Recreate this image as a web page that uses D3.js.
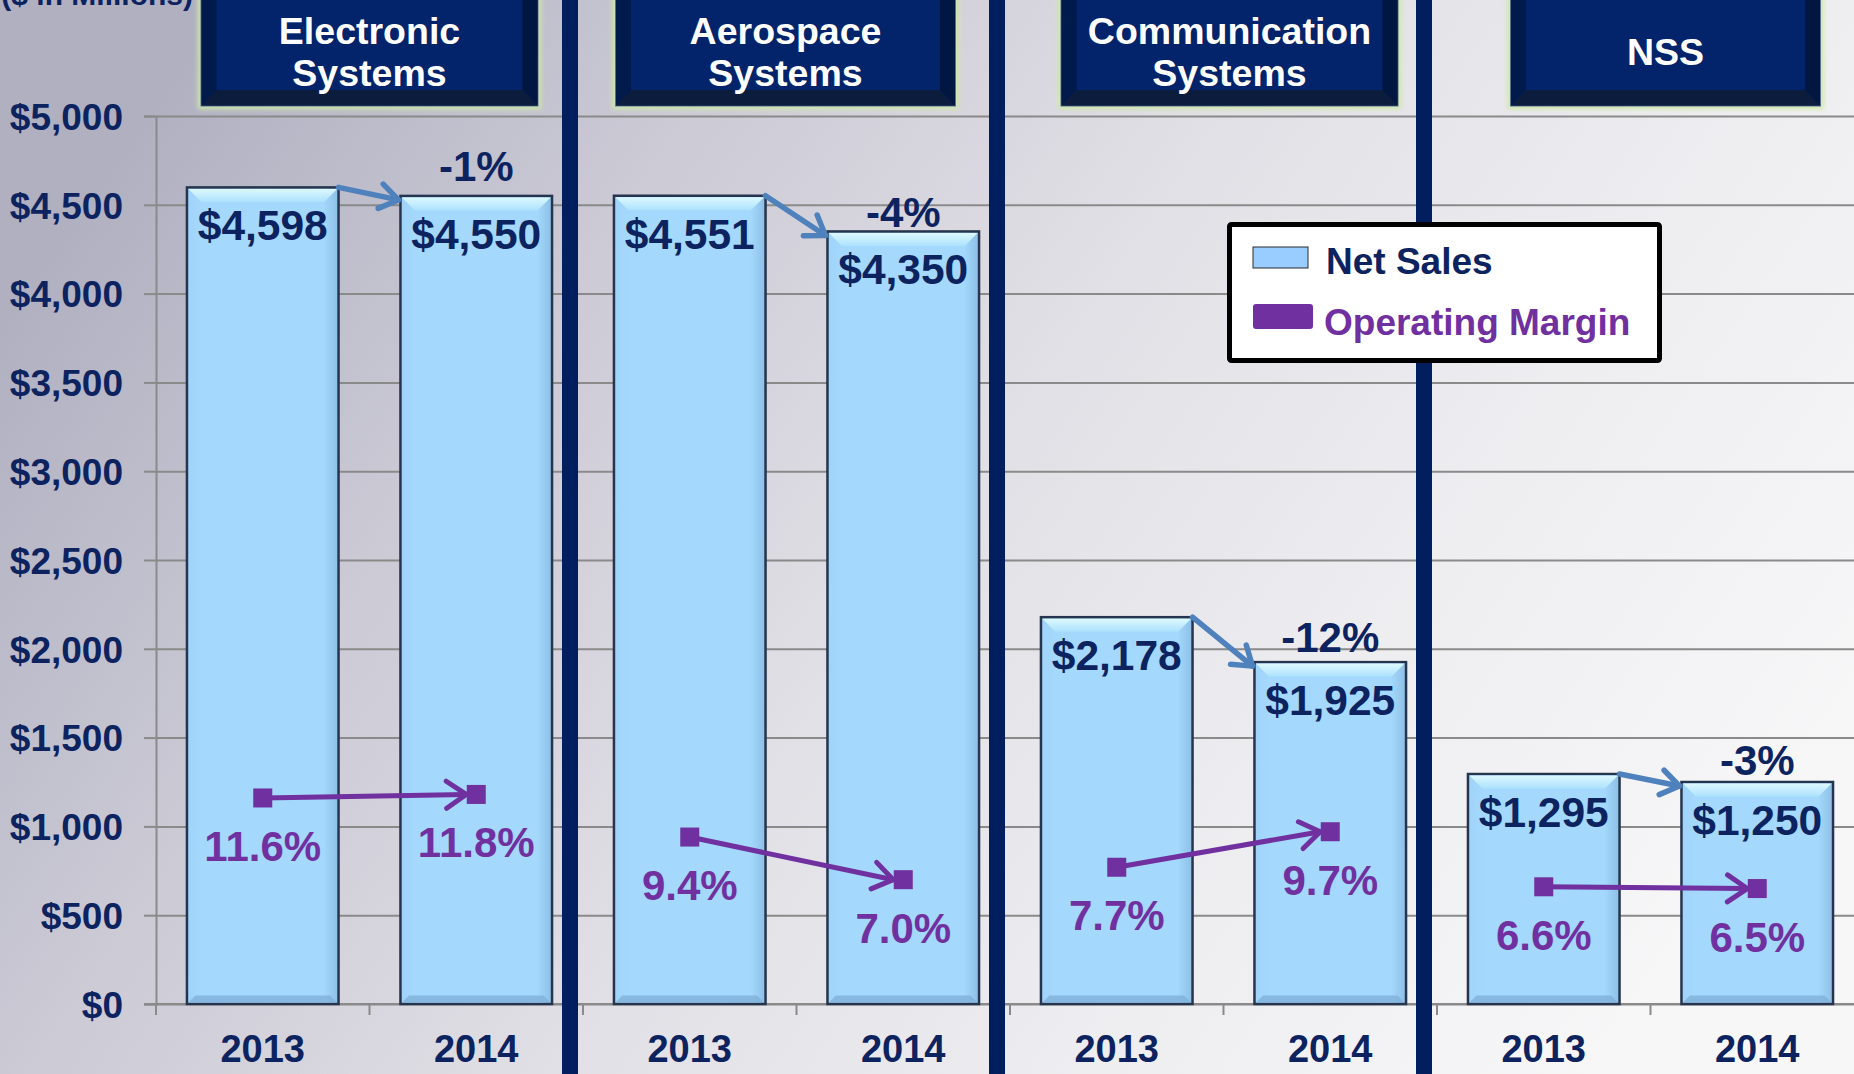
<!DOCTYPE html>
<html>
<head>
<meta charset="utf-8">
<script src="https://cdn.jsdelivr.net/npm/d3@7/dist/d3.min.js"></script>
<style>
  html, body { margin: 0; padding: 0; overflow: hidden; background: #fff; }
  svg { display: block; }
  text { font-family: "Liberation Sans", Arial, Helvetica, sans-serif; font-weight: bold; }
</style>
</head>
<body>
<svg id="chart" width="1854" height="1074"></svg>
<script>
// ---------------- DATA ----------------
const segments = ["Electronic Systems", "Aerospace Systems", "Communication Systems", "NSS"];
const segmentLines = [["Electronic", "Systems"], ["Aerospace", "Systems"], ["Communication", "Systems"], ["NSS"]];
const years = ["2013", "2014"];
const netSales2013 = [4598, 4551, 2178, 1295];
const netSales2014 = [4550, 4350, 1925, 1250];
const margin2013 = [11.6, 9.4, 7.7, 6.6];
const margin2014 = [11.8, 7.0, 9.7, 6.5];
const changeLabels = ["-1%", "-4%", "-12%", "-3%"];
const yTicks = [0, 500, 1000, 1500, 2000, 2500, 3000, 3500, 4000, 4500, 5000];
const unitLabel = "($ in Millions)";
const legendLabels = ["Net Sales", "Operating Margin"];

// ---------------- BUILD TABLE ----------------
const rows = [];
segments.forEach((s, i) => {
  rows.push({ seg: i, year: years[0], key: s + "|" + years[0], sales: netSales2013[i], margin: margin2013[i] });
  rows.push({ seg: i, year: years[1], key: s + "|" + years[1], sales: netSales2014[i], margin: margin2014[i] });
});

// ---------------- LAYOUT ----------------
const W = 1854, H = 1074;
const axisX = 156, baseY = 1004, topY = 116, step = 213.5;
const navy = "#0d2360", purple = "#7030a0", arrowBlue = "#4f81bd", sepColor = "#011f5e";

const svg = d3.select("#chart");
const defs = svg.append("defs");

// background gradient
const bg = defs.append("linearGradient").attr("id", "bg").attr("x1", "0").attr("y1", "0.3").attr("x2", "1").attr("y2", "0.7");
[[0, "#b0b0c1"], [0.25, "#cbcad5"], [0.5, "#e1e0e6"], [0.75, "#eeeef1"], [1, "#f7f7f8"]].forEach(([o, c]) =>
  bg.append("stop").attr("offset", o).attr("stop-color", c));
svg.append("rect").attr("width", W).attr("height", H).attr("fill", "url(#bg)");

// bar gradients
const topBevel = defs.append("linearGradient").attr("id", "topBevel").attr("x1", 0).attr("y1", 0).attr("x2", 0).attr("y2", 1);
topBevel.append("stop").attr("offset", 0).attr("stop-color", "#dcf8ff");
topBevel.append("stop").attr("offset", 1).attr("stop-color", "#ade2fd");
const barFill = defs.append("linearGradient").attr("id", "barFill").attr("x1", 0).attr("y1", 0).attr("x2", 1).attr("y2", 0);
barFill.append("stop").attr("offset", 0).attr("stop-color", "#9fd3fa");
barFill.append("stop").attr("offset", 0.1).attr("stop-color", "#a4d8fc");
barFill.append("stop").attr("offset", 0.9).attr("stop-color", "#a4d8fc");
barFill.append("stop").attr("offset", 1).attr("stop-color", "#8dbfe6");

// glow filter for header boxes
const glow = defs.append("filter").attr("id", "glow").attr("x", "-10%").attr("y", "-10%").attr("width", "120%").attr("height", "130%");
glow.append("feGaussianBlur").attr("stdDeviation", 2.5);

// scales
const x = d3.scaleBand()
  .domain(rows.map(d => d.key))
  .range([axisX, axisX + step * rows.length])
  .paddingInner(0.29)
  .paddingOuter(0.145);
const y = d3.scaleLinear().domain([0, 5000]).range([baseY, topY]);
const yM = d3.scaleLinear().domain([0, 50]).range([baseY, topY]);
const bw = x.bandwidth();
const cx = d => x(d.key) + bw / 2;

// gridlines
svg.append("g")
  .attr("transform", `translate(${axisX},0)`)
  .call(d3.axisLeft(y).tickValues(yTicks).tickSize(-(W - axisX)).tickFormat(""))
  .call(g => g.select(".domain").remove())
  .call(g => g.selectAll("line").attr("stroke", "#8a8a8a").attr("stroke-width", 2));

// y axis
svg.append("g")
  .attr("transform", `translate(${axisX},0)`)
  .call(d3.axisLeft(y).tickValues(yTicks).tickSize(12).tickPadding(21).tickFormat(d => "$" + d3.format(",")(d)))
  .call(g => g.select(".domain").attr("stroke", "#8a8a8a").attr("stroke-width", 2))
  .call(g => g.selectAll("line").attr("stroke", "#8a8a8a").attr("stroke-width", 2))
  .call(g => g.selectAll("text").attr("fill", navy).attr("font-size", 37).attr("dy", "0.36em")
    .style("font-family", "'Liberation Sans', Arial, sans-serif").style("font-weight", "bold"));

// x axis baseline + boundary ticks
svg.append("line").attr("x1", axisX - 12).attr("x2", W).attr("y1", baseY).attr("y2", baseY)
  .attr("stroke", "#8a8a8a").attr("stroke-width", 2);
const boundaries = d3.range(rows.length + 1).map(i => x.range()[0] + i * x.step());
svg.append("g").selectAll("line").data(boundaries).join("line")
  .attr("x1", d => d).attr("x2", d => d).attr("y1", baseY).attr("y2", baseY + 11)
  .attr("stroke", "#8a8a8a").attr("stroke-width", 2);

// year labels
svg.append("g").selectAll("text").data(rows).join("text")
  .attr("x", cx).attr("y", 1062).attr("text-anchor", "middle")
  .attr("font-size", 38).attr("fill", navy).text(d => d.year);

// bars
const bars = svg.append("g").selectAll("g").data(rows).join("g");
bars.append("rect")
  .attr("x", d => x(d.key)).attr("y", d => y(d.sales))
  .attr("width", bw).attr("height", d => baseY - y(d.sales))
  .attr("fill", "url(#barFill)").attr("stroke", "#26354d").attr("stroke-width", 2.5);
bars.append("path")
  .attr("d", d => {
    const x0 = x(d.key) + 1.5, x1 = x(d.key) + bw - 1.5, y0 = y(d.sales) + 1.5, b = 13;
    return `M${x0},${y0}L${x1},${y0}L${x1 - b},${y0 + b}L${x0 + b},${y0 + b}Z`;
  })
  .attr("fill", "url(#topBevel)");
bars.append("path")
  .attr("d", d => {
    const x0 = x(d.key) + 1.5, x1 = x(d.key) + bw - 1.5, y1 = baseY - 1.5, b = 7;
    return `M${x0},${y1}L${x1},${y1}L${x1 - b},${y1 - b}L${x0 + b},${y1 - b}Z`;
  })
  .attr("fill", "#7fb0da").attr("opacity", 0.8);

// bar value labels
svg.append("g").selectAll("text").data(rows).join("text")
  .attr("x", cx).attr("y", d => y(d.sales) + 53).attr("text-anchor", "middle")
  .attr("font-size", 42.5).attr("fill", navy)
  .text(d => "$" + d3.format(",")(d.sales));

// separators between segments
const sepX = [2, 4, 6].map(i => boundaries[i] - 13);
svg.append("g").selectAll("rect").data(sepX).join("rect")
  .attr("x", d => d - 8).attr("y", 0).attr("width", 16).attr("height", H).attr("fill", sepColor);

// helper for arrowheads
function chevron(xe, ye, ang, len, spread) {
  const a1 = ang + Math.PI - spread, a2 = ang + Math.PI + spread;
  return `M${xe + len * Math.cos(a1)},${ye + len * Math.sin(a1)}L${xe},${ye}L${xe + len * Math.cos(a2)},${ye + len * Math.sin(a2)}`;
}

// blue sales-change arrows
const pairs = segments.map((s, i) => ({ a: rows[2 * i], b: rows[2 * i + 1], i }));
const blue = svg.append("g").attr("fill", "none").attr("stroke", arrowBlue).attr("stroke-width", 5.5).attr("stroke-linecap", "round");
pairs.forEach(p => {
  const xs = x(p.a.key) + bw, ys = y(p.a.sales);
  const xe = x(p.b.key) - 2, ye = y(p.b.sales) + 4;
  const ang = Math.atan2(ye - ys, xe - xs);
  blue.append("path").attr("d", `M${xs},${ys}L${xe},${ye}`);
  blue.append("path").attr("d", chevron(xe, ye, ang, 22, 0.6)).attr("stroke-linejoin", "round");
});

// change labels (vertical offset above the 2014 bar, per label)
const changeDy = [-15, -4.5, -10, -7];
svg.append("g").selectAll("text").data(pairs).join("text")
  .attr("x", p => cx(p.b)).attr("y", p => y(p.b.sales) + changeDy[p.i]).attr("text-anchor", "middle")
  .attr("font-size", 42).attr("fill", navy).text(p => changeLabels[p.i]);

// purple margin arrows
const purp = svg.append("g").attr("fill", "none").attr("stroke", purple).attr("stroke-width", 5).attr("stroke-linecap", "round");
pairs.forEach(p => {
  const xs = cx(p.a), ys = yM(p.a.margin);
  const xe = cx(p.b) - 10, ye = yM(p.b.margin);
  const ang = Math.atan2(ye - ys, xe - xs);
  purp.append("path").attr("d", `M${xs},${ys}L${xe},${ye}`);
  purp.append("path").attr("d", chevron(xe, ye, ang, 24, 0.6)).attr("stroke-linejoin", "round");
});

// margin markers
svg.append("g").selectAll("rect").data(rows).join("rect")
  .attr("x", d => cx(d) - 9.5).attr("y", d => yM(d.margin) - 9.5)
  .attr("width", 19).attr("height", 19).attr("fill", purple);

// margin labels
svg.append("g").selectAll("text").data(rows).join("text")
  .attr("x", cx).attr("y", d => yM(d.margin) + 63).attr("text-anchor", "middle")
  .attr("font-size", 42).attr("fill", purple).text(d => d3.format(".1f")(d.margin) + "%");

// header boxes
const headerDx = [0, -11, 6, 15];
const headerW = [337, 340, 337, 310];
const hdr = svg.append("g").selectAll("g").data(segments).join("g")
  .attr("transform", (s, i) => `translate(${(boundaries[2 * i] + boundaries[2 * i + 2]) / 2 + headerDx[i]},0)`);
hdr.append("rect")
  .attr("x", (s, i) => -headerW[i] / 2 - 3).attr("y", -20).attr("width", (s, i) => headerW[i] + 6).attr("height", 129)
  .attr("fill", "#cfe8a8").attr("filter", "url(#glow)");
hdr.append("rect")
  .attr("x", (s, i) => -headerW[i] / 2).attr("y", -20).attr("width", (s, i) => headerW[i]).attr("height", 126)
  .attr("fill", "#03236a").attr("stroke", "#5a6f8a").attr("stroke-width", 1);
hdr.append("path").attr("d", (s, i) => {
  const l = -headerW[i] / 2 + 0.5, b = 15;
  return `M${l},-20L${l + b},-5L${l + b},90L${l},105.5Z`;
}).attr("fill", "#001a4b");
hdr.append("path").attr("d", (s, i) => {
  const r = headerW[i] / 2 - 0.5, b = 15;
  return `M${r},-20L${r - b},-5L${r - b},90L${r},105.5Z`;
}).attr("fill", "#011640");
hdr.append("path").attr("d", (s, i) => {
  const l = -headerW[i] / 2 + 0.5, r = headerW[i] / 2 - 0.5, b = 15;
  return `M${l},105.5L${l + b},90L${r - b},90L${r},105.5Z`;
}).attr("fill", "#0b1c3d");
hdr.each(function (s, i) {
  const lines = segmentLines[i];
  const base = lines.length === 2 ? [44, 86] : [65];
  d3.select(this).selectAll("text").data(lines).join("text")
    .attr("x", 0).attr("y", (t, j) => base[j]).attr("text-anchor", "middle")
    .attr("font-size", 37.5).attr("fill", "#ffffff").text(t => t);
});

// unit label (cut off at top, as in the source slide)
svg.append("text").attr("x", 193).attr("y", 5).attr("text-anchor", "end")
  .attr("font-size", 30).attr("fill", navy).text(unitLabel);

// legend
const lg = svg.append("g");
lg.append("rect").attr("x", 1229.5).attr("y", 224.5).attr("width", 430).attr("height", 136).attr("rx", 2)
  .attr("fill", "#ffffff").attr("stroke", "#000").attr("stroke-width", 5);
lg.append("rect").attr("x", 1253).attr("y", 247).attr("width", 55).attr("height", 21)
  .attr("fill", "#99ccff").attr("stroke", "#2b2b2b").attr("stroke-width", 1);
lg.append("rect").attr("x", 1253).attr("y", 304).attr("width", 60).attr("height", 25).attr("rx", 3)
  .attr("fill", purple);
lg.append("text").attr("x", 1326).attr("y", 274).attr("font-size", 37).attr("fill", navy).text(legendLabels[0]);
lg.append("text").attr("x", 1324).attr("y", 335).attr("font-size", 37).attr("fill", purple).text(legendLabels[1]);
</script>
</body>
</html>
